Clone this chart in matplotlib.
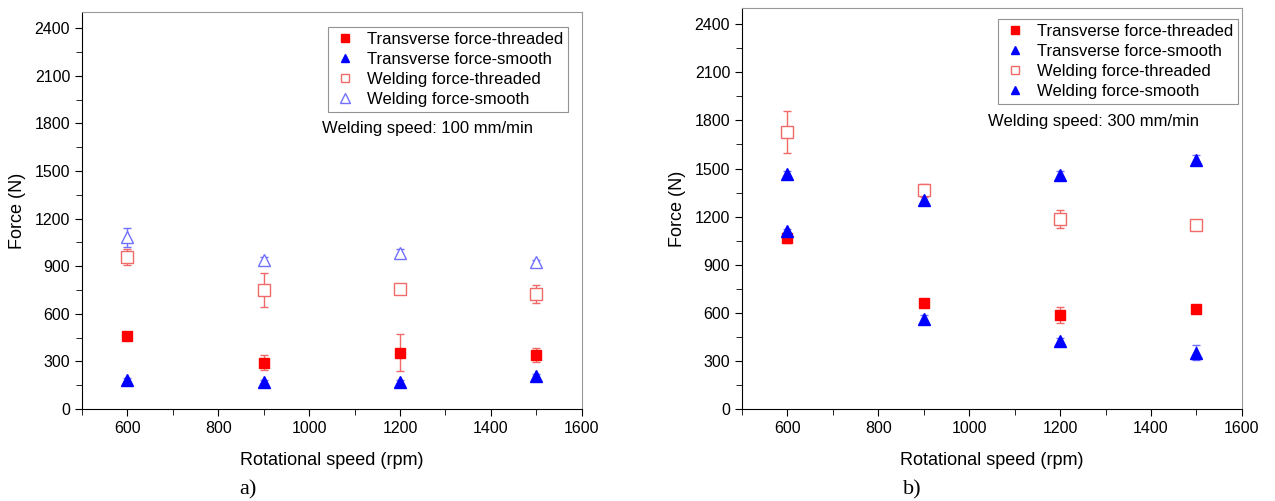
import matplotlib
matplotlib.use('Agg')
import matplotlib.pyplot as plt
from matplotlib.ticker import MultipleLocator

plt.rcParams['font.family'] = ['Liberation Sans', 'DejaVu Sans']

speeds = [600, 900, 1200, 1500]

# a) welding speed 100 mm/min
a_trans_thr = [462, 293, 355, 342]
a_trans_thr_err = [10, 50, 115, 45]
a_trans_smo = [182, 171, 171, 205]
a_trans_smo_err = [12, 12, 12, 15]
a_weld_thr = [958, 752, 756, 726]
a_weld_thr_err = [53, 107, 15, 55]
a_weld_smo = [1081, 937, 986, 927]
a_weld_smo_err = [60, 20, 20, 15]

# b) welding speed 300 mm/min
b_trans_thr = [1067, 660, 587, 625]
b_trans_thr_err = [30, 10, 50, 20]
b_trans_smo = [1108, 560, 425, 352]
b_trans_smo_err = [15, 25, 20, 48]
b_weld_thr = [1729, 1365, 1185, 1146]
b_weld_thr_err = [132, 40, 57, 10]
b_weld_smo = [1465, 1306, 1458, 1556]
b_weld_smo_err = [20, 20, 25, 30]

labels = ['Transverse force-threaded', 'Transverse force-smooth',
          'Welding force-threaded', 'Welding force-smooth']

fig = plt.figure(figsize=(12.75, 5.01), dpi=100)
ax1 = fig.add_axes([0.0643, 0.1836, 0.392, 0.792])
ax2 = fig.add_axes([0.582, 0.1836, 0.392, 0.800])


def draw(ax, tt, tte, ts, tse, wt, wte, ws, wse, weld_smooth_filled,
         speed_txt, txt_pos, leg_anchor):
    h = []
    h.append(ax.errorbar(speeds, tt, yerr=tte, fmt='s', color='#ff0000', ms=7,
                         ecolor='#f06a6a', elinewidth=1, capsize=3)[0])
    h.append(ax.errorbar(speeds, ts, yerr=tse, fmt='^', color='#0000ff', ms=8,
                         ecolor='#7070ff', elinewidth=1, capsize=3)[0])
    h.append(ax.errorbar(speeds, wt, yerr=wte, fmt='s', mfc='white', mec='#f06a6a', ms=8,
                         ecolor='#f06a6a', elinewidth=1, capsize=3)[0])
    if weld_smooth_filled:
        h.append(ax.errorbar(speeds, ws, yerr=wse, fmt='^', color='#0000ff', ms=8,
                             ecolor='#7070ff', elinewidth=1, capsize=3)[0])
    else:
        h.append(ax.errorbar(speeds, ws, yerr=wse, fmt='^', mfc='white', mec='#7070ff', ms=9,
                             ecolor='#7070ff', elinewidth=1, capsize=3)[0])
    ax.set_xlim(500, 1600)
    ax.set_ylim(0, 2500)
    ax.xaxis.set_major_locator(MultipleLocator(200))
    ax.xaxis.set_minor_locator(MultipleLocator(100))
    ax.yaxis.set_major_locator(MultipleLocator(300))
    ax.yaxis.set_minor_locator(MultipleLocator(150))
    ax.tick_params(which='major', length=5, labelsize=11.5, direction='out')
    ax.tick_params(which='minor', length=4, direction='out')
    ax.set_yticks(range(0, 2401, 300))
    for s in ['top', 'right']:
        ax.spines[s].set_color('#999999')
    ax.set_xlabel('Rotational speed (rpm)', fontsize=13, labelpad=12)
    ax.set_ylabel('Force (N)', fontsize=13, labelpad=6)
    leg = ax.legend(h, labels, loc='upper right', bbox_to_anchor=leg_anchor,
                    fontsize=12, frameon=True, fancybox=False, edgecolor='#777777',
                    handletextpad=0.6, handlelength=1.4, labelspacing=0.3,
                    borderpad=0.3, borderaxespad=0, markerscale=0.75)
    leg.get_frame().set_linewidth(0.8)
    ax.text(txt_pos[0], txt_pos[1], speed_txt, transform=ax.transAxes,
            fontsize=12, va='center')


draw(ax1, a_trans_thr, a_trans_thr_err, a_trans_smo, a_trans_smo_err,
     a_weld_thr, a_weld_thr_err, a_weld_smo, a_weld_smo_err, False,
     'Welding speed: 100 mm/min', (0.48, 0.708), (0.972, 0.962))
draw(ax2, b_trans_thr, b_trans_thr_err, b_trans_smo, b_trans_smo_err,
     b_weld_thr, b_weld_thr_err, b_weld_smo, b_weld_smo_err, True,
     'Welding speed: 300 mm/min', (0.492, 0.718), (0.992, 0.973))

fig.text(248 / 1275, 1 - 490 / 501, 'a)', fontsize=16, family='Liberation Serif',
         ha='center', va='center')
fig.text(912 / 1275, 1 - 490 / 501, 'b)', fontsize=16, family='Liberation Serif',
         ha='center', va='center')

fig.savefig('out.png', dpi=100)
